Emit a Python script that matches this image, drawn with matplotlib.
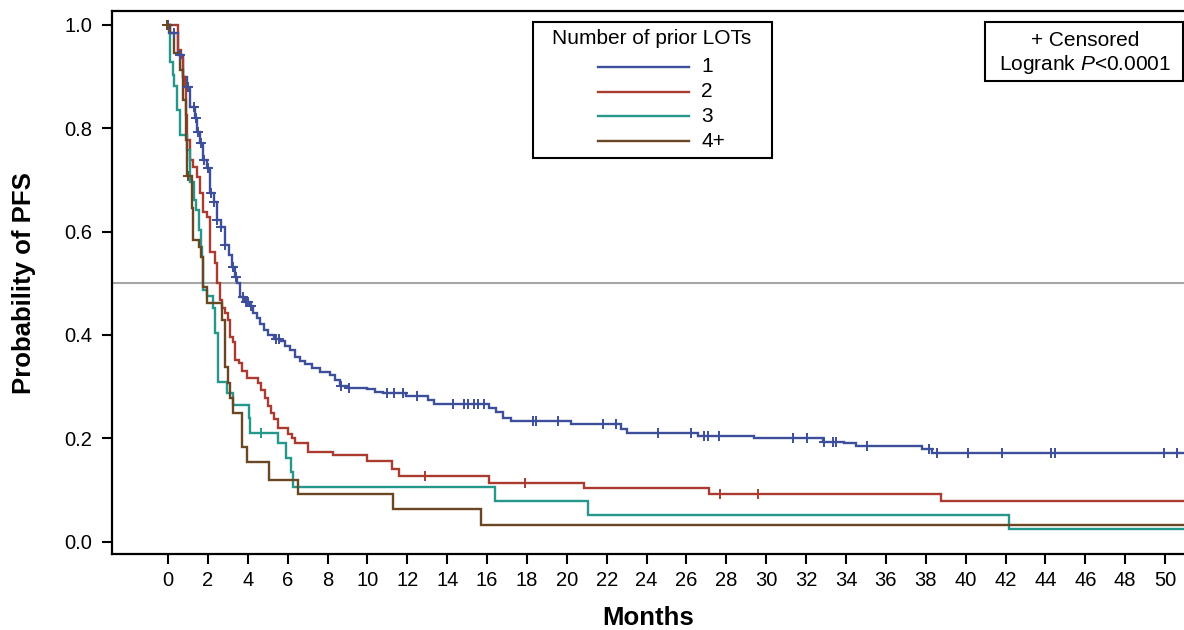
import matplotlib
matplotlib.use("Agg")
import matplotlib.pyplot as plt
import numpy as np
from matplotlib.patches import Rectangle
from matplotlib.lines import Line2D

plt.rcParams['font.family'] = ['Liberation Sans', 'DejaVu Sans']
plt.rcParams['mathtext.fontset'] = 'custom'
plt.rcParams['mathtext.rm'] = 'Liberation Sans'
plt.rcParams['mathtext.it'] = 'Liberation Sans:italic'

# ---------------- data ----------------
series_names = ["1", "2", "3", "4+"]
series_colors = ["#3d4f9b", "#ab3b2f", "#26978b", "#6b4622"]
max_followup = 52.0

# LOT = 1
t1 = [0.05, 0.50, 0.75, 0.95, 1.11, 1.36, 1.46, 1.61, 1.76, 1.96, 2.11, 2.31, 2.46, 2.66,
      2.86, 3.07, 3.22, 3.37, 3.47, 3.62, 3.87, 4.12, 4.27, 4.47, 4.62, 4.82, 5.03, 5.33,
      5.63, 5.88, 6.13, 6.38, 6.63, 6.88, 7.24, 7.64, 8.14, 8.39, 8.64, 9.05, 10.00, 10.40,
      10.80, 11.91, 13.02, 13.32, 16.08, 16.43, 16.78, 17.19, 20.20, 22.71, 23.02, 26.58,
      29.40, 32.86, 33.92, 34.52, 37.79, 38.29, 38.54]
s1 = [0.984, 0.942, 0.899, 0.880, 0.841, 0.820, 0.793, 0.771, 0.738, 0.723, 0.674, 0.657,
      0.622, 0.609, 0.574, 0.554, 0.531, 0.512, 0.500, 0.473, 0.463, 0.455, 0.442, 0.432,
      0.422, 0.409, 0.399, 0.393, 0.388, 0.378, 0.370, 0.357, 0.349, 0.343, 0.335, 0.328,
      0.322, 0.312, 0.302, 0.298, 0.295, 0.289, 0.287, 0.281, 0.273, 0.266, 0.258, 0.250,
      0.240, 0.234, 0.227, 0.217, 0.211, 0.205, 0.200, 0.192, 0.190, 0.184, 0.180, 0.172,
      0.171]
c1 = [0.0, 0.30, 0.60, 0.98, 1.31, 1.38, 1.50, 1.63, 1.78, 1.98, 2.13, 2.33, 2.48, 2.68,
      2.88, 3.24, 3.40, 3.77, 3.90, 4.02, 4.14, 5.43, 5.58, 8.66, 9.1, 11.0, 11.31, 11.76,
      12.51, 14.27, 14.82, 15.03, 15.33, 15.53, 15.83, 18.29, 18.44, 19.55, 21.81, 22.46,
      24.57, 26.23, 26.88, 27.09, 27.64, 31.36, 32.06, 32.91, 33.37, 33.52, 35.03, 38.14,
      38.56, 40.10, 41.81, 44.27, 44.47, 49.95, 50.60, 51.0]

# LOT = 2
t2 = [0.50, 0.65, 0.75, 0.85, 0.90, 0.95, 1.11, 1.26, 1.46, 1.61, 1.76, 1.96, 2.11, 2.36,
      2.46, 2.61, 2.71, 2.86, 3.02, 3.12, 3.27, 3.37, 3.57, 3.72, 3.97, 4.52, 4.67, 4.87,
      5.03, 5.18, 5.33, 5.53, 6.03, 6.23, 6.38, 7.04, 8.29, 10.00, 11.21, 11.56, 16.08,
      20.85, 27.14, 38.74]
s2 = [0.952, 0.936, 0.899, 0.880, 0.826, 0.777, 0.738, 0.725, 0.705, 0.674, 0.638, 0.628,
      0.560, 0.539, 0.500, 0.467, 0.453, 0.442, 0.428, 0.395, 0.386, 0.351, 0.345, 0.331,
      0.316, 0.306, 0.293, 0.277, 0.262, 0.248, 0.238, 0.219, 0.209, 0.200, 0.190, 0.174,
      0.167, 0.155, 0.140, 0.126, 0.114, 0.103, 0.091, 0.078]
c2 = [12.9, 17.9, 27.7, 29.6]

# LOT = 3
t3 = [0.10, 0.25, 0.30, 0.45, 0.60, 0.95, 1.11, 1.31, 1.41, 1.56, 1.66, 1.71, 1.76, 1.96,
      2.26, 2.36, 2.51, 2.96, 3.27, 4.07, 4.12, 5.53, 5.93, 6.18, 6.28, 16.38, 21.06, 42.16]
s3 = [0.928, 0.903, 0.882, 0.835, 0.787, 0.758, 0.696, 0.661, 0.641, 0.603, 0.570, 0.550,
      0.486, 0.475, 0.453, 0.403, 0.308, 0.287, 0.264, 0.240, 0.211, 0.190, 0.161, 0.134,
      0.105, 0.079, 0.052, 0.025]
c3 = [4.67]

# LOT = 4+
t4 = [0.10, 0.30, 0.60, 0.75, 0.90, 0.95, 1.21, 1.26, 1.56, 1.66, 1.76, 1.96, 2.71, 2.86,
      3.02, 3.12, 3.27, 3.72, 3.97, 5.08, 6.53, 11.26, 15.68]
s4 = [0.984, 0.946, 0.913, 0.855, 0.777, 0.707, 0.645, 0.583, 0.570, 0.550, 0.492, 0.461,
      0.428, 0.337, 0.306, 0.277, 0.248, 0.182, 0.153, 0.120, 0.091, 0.062, 0.031]
c4 = [-0.05, 1.0]

all_times = [t1, t2, t3, t4]
all_surv = [s1, s2, s3, s4]
all_cens = [c1, c2, c3, c4]

x_ticks = list(range(0, 51, 2))
y_ticks = [0.0, 0.2, 0.4, 0.6, 0.8, 1.0]
x_label = "Months"
y_label = "Probability of PFS"
legend_title = "Number of prior LOTs"
note_lines = ["+ Censored", "Logrank $\\it{P}$<0.0001"]

# ---------------- figure ----------------
W, H = 1184, 630
fig = plt.figure(figsize=(W / 100, H / 100), dpi=100)
ax = fig.add_axes([112 / W, 1 - 554 / H, 1 - 112 / W, (554 - 11) / H])

ax.axhline(0.5, color="#a6a6a6", lw=1.5, zorder=1)

for name, col, tt, ss, cc in zip(series_names, series_colors, all_times, all_surv, all_cens):
    tt_full = np.array([0.0] + tt + [max_followup])
    ss_full = np.array([1.0] + ss + [ss[-1]])
    ax.plot(tt_full, ss_full, drawstyle="steps-post", color=col, lw=1.7, zorder=3,
            solid_joinstyle="miter")
    cc = np.array(cc)
    idx = np.searchsorted(tt_full, cc, side="right") - 1
    idx = np.clip(idx, 0, len(ss_full) - 1)
    ax.plot(cc, ss_full[idx], ls="none", marker="+", ms=7, mew=1.4, color=col, zorder=4)

ax.set_xlim(-2.81, 50.95)
ax.set_ylim(-0.0242, 1.0271)
ax.set_xticks(x_ticks)
ax.set_xticklabels([str(v) for v in x_ticks])
ax.set_yticks(y_ticks)
ax.set_yticklabels([f"{v:.1f}" for v in y_ticks])
ax.tick_params(axis="both", direction="out", length=7, width=1.5, labelsize=14.5,
               colors="black")
ax.tick_params(axis="x", pad=5)
ax.tick_params(axis="y", pad=7)
for side in ["left", "bottom", "top"]:
    ax.spines[side].set_linewidth(1.6)
    ax.spines[side].set_color("black")
ax.spines["right"].set_visible(False)

fig.text(648 / W, 1 - 618 / H, x_label, ha="center", va="center", fontsize=18.5,
         fontweight="bold")
fig.text(24 / W, 1 - 283 / H, y_label, ha="center", va="center", rotation=90,
         fontsize=18.5, fontweight="bold")

def fx(x):
    return x / W

def fy(y):
    return 1 - y / H

# legend box
fig.patches.append(Rectangle((fx(533), fy(158)), (772 - 533) / W, (158 - 22) / H,
                             transform=fig.transFigure, facecolor="white",
                             edgecolor="black", lw=1.5, zorder=5))
fig.text(fx(652), fy(39), legend_title, ha="center", va="center", fontsize=15, zorder=6)
for i, (name, col) in enumerate(zip(series_names, series_colors)):
    yy = 67 + i * 24.7
    fig.lines.append(Line2D([fx(598), fx(689)], [fy(yy), fy(yy)], color=col, lw=1.7,
                            transform=fig.transFigure, zorder=6))
    fig.text(fx(701), fy(yy), name, ha="left", va="center", fontsize=15, zorder=6)

# note box
fig.patches.append(Rectangle((fx(985), fy(81)), (1183 - 985) / W, (81 - 22) / H,
                             transform=fig.transFigure, facecolor="white",
                             edgecolor="black", lw=1.5, zorder=5))
fig.text(fx(1085), fy(40), note_lines[0], ha="center", va="center", fontsize=15, zorder=6)
fig.text(fx(1085), fy(64), note_lines[1], ha="center", va="center", fontsize=15, zorder=6)

fig.savefig("out.png", dpi=100)
